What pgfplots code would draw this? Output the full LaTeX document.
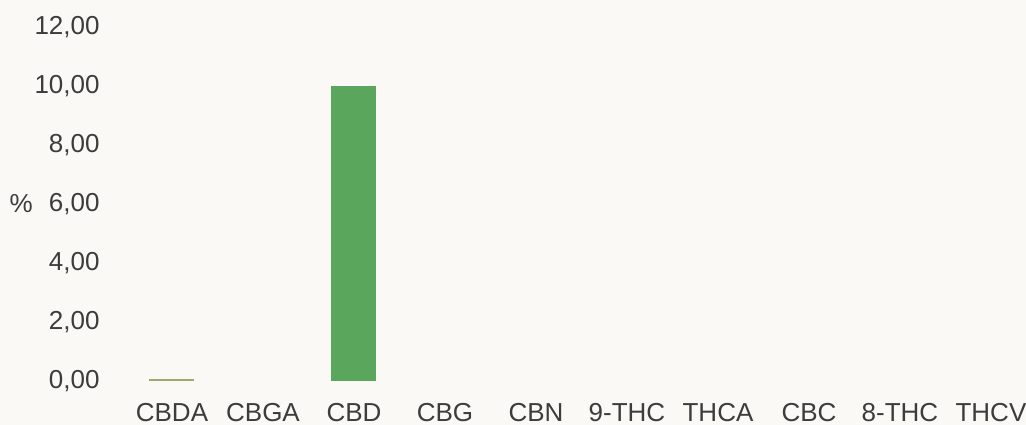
\documentclass[border=0pt]{standalone}
\usepackage{pgfplots}
\pgfplotsset{compat=1.18}
\usepackage{fontspec}
\setmainfont{Liberation Sans}
\definecolor{bargreen}{RGB}{90,166,92}
\definecolor{barolive}{RGB}{160,168,110}
\definecolor{txt}{RGB}{60,60,60}
\definecolor{paper}{RGB}{250,249,246}
\begin{document}
\begin{tikzpicture}
\fill[paper] (-94.875pt,-33pt) rectangle (674.625pt,285.75pt);
\begin{axis}[
  at={(0,0)}, anchor=south west,
  scale only axis,
  width=674.625pt, height=265.5pt,
  xmin=-0.5, xmax=9.385,
  ymin=0, ymax=12,
  axis line style={draw=none},
  major tick length=0pt,
  xtick={0,...,9},
  xticklabels={CBDA,CBGA,CBD,CBG,CBN,9-THC,THCA,CBC,8-THC,THCV},
  ytick={0,2,...,12},
  /pgf/number format/.cd, fixed, fixed zerofill, precision=2, use comma, assume math mode=true,
  /pgfplots/.cd,
  yticklabel style={font=\fontsize{19.5}{22}\selectfont, text=txt, anchor=east, inner sep=0pt, xshift=-20pt},
  xticklabel style={font=\fontsize{19.5}{22}\selectfont, text=txt, anchor=north, inner sep=0pt, yshift=-16.5pt},
  ybar, bar width=33.75pt, bar shift=0pt,
  clip=false,
]
\addplot[fill=barolive, draw=none] coordinates {(0,0.06)};
\addplot[fill=bargreen, draw=none] coordinates {(2,10)};
\node[font=\fontsize{19.5}{22}\selectfont, text=txt] at (rel axis cs:0,0.5) [xshift=-79pt] {\%};
\end{axis}
\pgfresetboundingbox
\path (-94.875pt,-33pt) rectangle (674.625pt,285.75pt);
\end{tikzpicture}
\end{document}
